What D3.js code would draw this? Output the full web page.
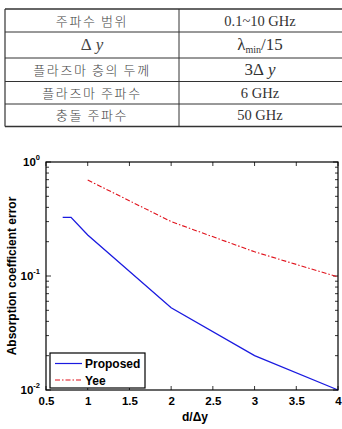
<!DOCTYPE html>
<html><head><meta charset="utf-8">
<script src="https://cdn.jsdelivr.net/npm/d3@7"></script>
<style>
html,body{margin:0;padding:0;background:#fff;}
svg{display:block;}
</style></head>
<body>
<svg id="c" width="342" height="429"></svg>
<script>
// ---- data ----
const tableLabels = ["주파수 범위", "Δy", "플라즈마 층의 두께", "플라즈마 주파수", "충돌 주파수"];
const tableValues = ["0.1~10 GHz", "λmin/15", "3Δy", "6 GHz", "50 GHz"];
const xProposed = [0.7, 0.8, 1, 2, 3, 4];
const proposed = [0.327, 0.327, 0.229, 0.0527, 0.020, 0.010];
const xYee = [1, 2, 3, 4];
const yee = [0.695, 0.30, 0.163, 0.098];
const xTicks = [0.5, 1, 1.5, 2, 2.5, 3, 3.5, 4];
const yTickExps = [0, -1, -2];
const seriesNames = ["Proposed", "Yee"];

const svg = d3.select("#c");

// ---- table ----
const rowLines = [9, 32, 58, 81.5, 104, 126.5];
const tL = 5, tDiv = 179, tR = 345;
rowLines.forEach((y, i) => {
  svg.append("line").attr("x1", tL).attr("x2", tR).attr("y1", y).attr("y2", y)
    .attr("stroke", "#333").attr("stroke-width", (i === 0 || i === rowLines.length - 1) ? 1.6 : 1);
});
svg.append("line").attr("x1", tL).attr("x2", tL).attr("y1", rowLines[0]).attr("y2", rowLines[5]).attr("stroke", "#333").attr("stroke-width", 1.2);
svg.append("line").attr("x1", tDiv).attr("x2", tDiv).attr("y1", rowLines[0]).attr("y2", rowLines[5]).attr("stroke", "#333").attr("stroke-width", 1);

tableLabels.forEach((lab, i) => {
  const cy = (rowLines[i] + rowLines[i + 1]) / 2 + 5;
  const t = svg.append("text").attr("x", (tL + tDiv) / 2).attr("y", cy).attr("text-anchor", "middle")
    .attr("fill", "#444");
  if (lab === "Δy") {
    t.attr("font-family", "Liberation Serif").attr("font-size", 17).attr("font-style", "italic")
      .append("tspan").text("Δ").attr("font-style", "normal");
    t.append("tspan").text(" y");
  } else {
    t.attr("font-family", "Noto Sans CJK KR").attr("font-size", 13).attr("font-weight", 300)
      .attr("letter-spacing", 1.6).text(lab);
  }
});
tableValues.forEach((v, i) => {
  const cy = (rowLines[i] + rowLines[i + 1]) / 2 + 5;
  const t = svg.append("text").attr("x", (tDiv + 341) / 2).attr("y", cy).attr("text-anchor", "middle")
    .attr("font-family", "Liberation Serif").attr("font-size", 14.5).attr("fill", "#333");
  if (v === "λmin/15") {
    t.attr("font-size", 17);
    t.append("tspan").text("λ");
    t.append("tspan").text("min").attr("font-size", 10).attr("dy", 3);
    t.append("tspan").text("/15").attr("dy", -3);
  } else if (v === "3Δy") {
    t.attr("font-size", 17);
    t.append("tspan").text("3Δ");
    t.append("tspan").text(" y").attr("font-style", "italic");
  } else {
    t.text(v);
  }
});

// ---- chart ----
const L = 46, R = 338, T = 162, B = 390;
const x = d3.scaleLinear().domain([0.5, 4]).range([L, R]);
const y = d3.scaleLog().domain([0.01, 1]).range([B, T]);

const g = svg.append("g");
const yTicksAll = y.ticks();
yTicksAll.forEach(v => {
  const major = Math.abs(Math.log10(v) - Math.round(Math.log10(v))) < 1e-9;
  const len = major ? 5 : 3;
  g.append("line").attr("x1", L).attr("x2", L + len).attr("y1", y(v)).attr("y2", y(v)).attr("stroke", "#000").attr("stroke-width", 0.8);
  g.append("line").attr("x1", R).attr("x2", R - len).attr("y1", y(v)).attr("y2", y(v)).attr("stroke", "#000").attr("stroke-width", 0.8);
});
xTicks.forEach(v => {
  g.append("line").attr("x1", x(v)).attr("x2", x(v)).attr("y1", B).attr("y2", B - 4).attr("stroke", "#000").attr("stroke-width", 0.8);
  g.append("line").attr("x1", x(v)).attr("x2", x(v)).attr("y1", T).attr("y2", T + 4).attr("stroke", "#000").attr("stroke-width", 0.8);
});

const xAxis = d3.axisBottom(x).tickValues(xTicks).tickSize(0).tickPadding(7).tickFormat(d3.format("~g"));
const xa = svg.append("g").attr("transform", `translate(0,${B})`).call(xAxis);
xa.select(".domain").remove();
xa.selectAll("text").attr("font-family", "Liberation Sans, Arial").attr("font-weight", "bold").attr("font-size", 11.5).attr("fill", "#000");

yTickExps.forEach(e => {
  const t = svg.append("text").attr("x", 40).attr("y", y(Math.pow(10, e)) + 4).attr("text-anchor", "end")
    .attr("font-family", "Liberation Sans, Arial").attr("font-weight", "bold").attr("font-size", 11.5).attr("fill", "#000");
  t.append("tspan").text("10");
  t.append("tspan").text(String(e)).attr("font-size", 7.5).attr("dy", -6);
});

svg.append("text").attr("x", (L + R) / 2 + 3).attr("y", 421).attr("text-anchor", "middle")
  .attr("font-family", "Liberation Sans, Arial").attr("font-weight", "bold").attr("font-size", 12).text("d/Δy");
svg.append("text").attr("transform", `translate(16,${(T + B) / 2}) rotate(-90)`).attr("text-anchor", "middle")
  .attr("font-family", "Liberation Sans, Arial").attr("font-weight", "bold").attr("font-size", 12).text("Absorption coefficient error");

const line = d3.line().x(d => x(d[0])).y(d => y(d[1]));
svg.append("path").datum(xYee.map((v, i) => [v, yee[i]])).attr("d", line)
  .attr("fill", "none").attr("stroke", "#e0101a").attr("stroke-width", 1.1).attr("stroke-dasharray", "5,2,1.5,2");
svg.append("path").datum(xProposed.map((v, i) => [v, proposed[i]])).attr("d", line)
  .attr("fill", "none").attr("stroke", "#1a1ae0").attr("stroke-width", 1.3);

svg.append("rect").attr("x", L).attr("y", T).attr("width", R - L).attr("height", B - T)
  .attr("fill", "none").attr("stroke", "#000").attr("stroke-width", 1.2);

const lg = svg.append("g");
lg.append("rect").attr("x", 50).attr("y", 353).attr("width", 95).attr("height", 35)
  .attr("fill", "#fff").attr("stroke", "#000").attr("stroke-width", 1.2);
const legColors = ["#1a1ae0", "#e0101a"];
const legDash = [null, "5,2,1.5,2"];
seriesNames.forEach((n, i) => {
  const ly = 363.5 + i * 16.5;
  lg.append("line").attr("x1", 55).attr("x2", 82).attr("y1", ly).attr("y2", ly)
    .attr("stroke", legColors[i]).attr("stroke-width", 1.2).attr("stroke-dasharray", legDash[i]);
  lg.append("text").attr("x", 85).attr("y", ly + 4.5).attr("font-family", "Liberation Sans, Arial")
    .attr("font-weight", "bold").attr("font-size", 12).text(n);
});
</script>
</body></html>
